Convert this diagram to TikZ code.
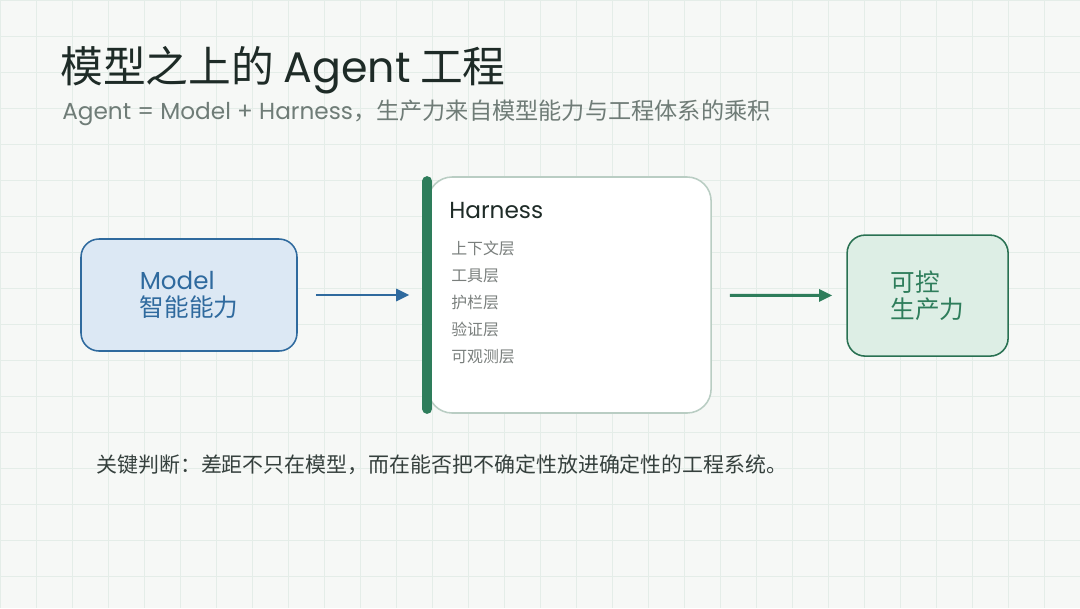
\documentclass[tikz,border=0pt]{standalone}
\usepackage{fontspec}
\setmainfont{Noto Sans CJK SC}
\newfontfamily\latinfont{Poppins}
\usetikzlibrary{positioning,arrows.meta}

\definecolor{paper}{HTML}{F6F8F6}
\definecolor{gridink}{HTML}{E4EDE8}
\definecolor{titleink}{HTML}{1E2B27}
\definecolor{subink}{HTML}{6F7C77}
\definecolor{modelblue}{HTML}{2F6A9E}
\definecolor{modelfill}{HTML}{DCE8F4}
\definecolor{prodgreen}{HTML}{2E7D5B}
\definecolor{prodfill}{HTML}{DDEEE5}
\definecolor{harnessedge}{HTML}{B9CDC3}
\definecolor{layerink}{HTML}{7A7F7D}

\begin{document}
\begin{tikzpicture}[
    >=Triangle,
    modelbox/.style={
        draw=modelblue,
        fill=modelfill,
        rounded corners=0.45cm,
        line width=1.1pt,
        minimum width=5.4cm,
        minimum height=2.8cm,
        align=left,
        text=modelblue,
        font=\fontsize{17.5}{19.5}\selectfont
    },
    prodbox/.style={
        draw=prodgreen!90!black,
        fill=prodfill,
        rounded corners=0.45cm,
        line width=1.1pt,
        minimum width=4.025cm,
        minimum height=3.025cm,
        align=left,
        text=prodgreen,
        font=\fontsize{17.5}{19}\selectfont
    },
    harnessbox/.style={
        draw=harnessedge,
        fill=white,
        rounded corners=0.6cm,
        line width=1.1pt,
        minimum width=7.075cm,
        minimum height=5.9cm
    },
    railbar/.style={
        draw=prodgreen,
        line width=7pt,
        line cap=round
    },
    flow/.style={
        ->,
        line width=2.1pt,
        shorten <=0.45cm,
        {-Triangle[length=0.33cm,width=0.3cm]}
    },
    gridline/.style={
        draw=gridink,
        line width=0.5pt
    }
]

% Canvas
\useasboundingbox (0,0) rectangle (27,-15.2);
\fill[paper] (0,0) rectangle (27,-15.2);
\draw[gridline, step=0.9] (0,-15.2) grid (27,0);

% Heading
\node[anchor=base west, inner sep=0, text=titleink, font=\fontsize{30.4}{35}\selectfont] (title) at (1.5,-2.05) {模型之上的 {\latinfont Agent} 工程};
\node[anchor=base west, inner sep=0, text=subink, font=\fontsize{16.5}{20}\selectfont] (subtitle) at (1.55,-2.98) {{\latinfont Agent = Model + Harness}，生产力来自模型能力与工程体系的乘积};

% Boxes
\node[modelbox] (model) at (4.725,-7.375) {{\latinfont Model}\\智能能力};
\node[harnessbox] (harness) at (14.24,-7.375) {};
\node[prodbox] (prod) at (23.19,-7.39) {可控\\生产力};
\draw[railbar] ([yshift=-0.12cm]harness.north west) -- ([yshift=0.12cm]harness.south west);

% Harness content
\node[anchor=base west, inner sep=0, text=titleink, font=\latinfont\fontsize{16.5}{20}\selectfont] (harnesstitle) at (11.225,-5.45) {Harness};
\node[anchor=north west, inner sep=0, align=left, text=layerink, font=\fontsize{11.3}{19.2}\selectfont] (layers) at (11.275,-6.03) {上下文层\\工具层\\护栏层\\验证层\\可观测层};

% Flow
\draw[flow, draw=modelblue, fill=modelblue, shorten >=0.45cm] (model) -- (harness);
\draw[flow, draw=prodgreen, fill=prodgreen, shorten >=0.35cm] (harness) -- (prod);

% Takeaway
\node[anchor=base west, inner sep=0, text=titleink!90, font=\fontsize{14.9}{18}\selectfont] (takeaway) at (2.4,-11.8) {关键判断：差距不只在模型，而在能否把不确定性放进确定性的工程系统。};

\end{tikzpicture}
\end{document}
